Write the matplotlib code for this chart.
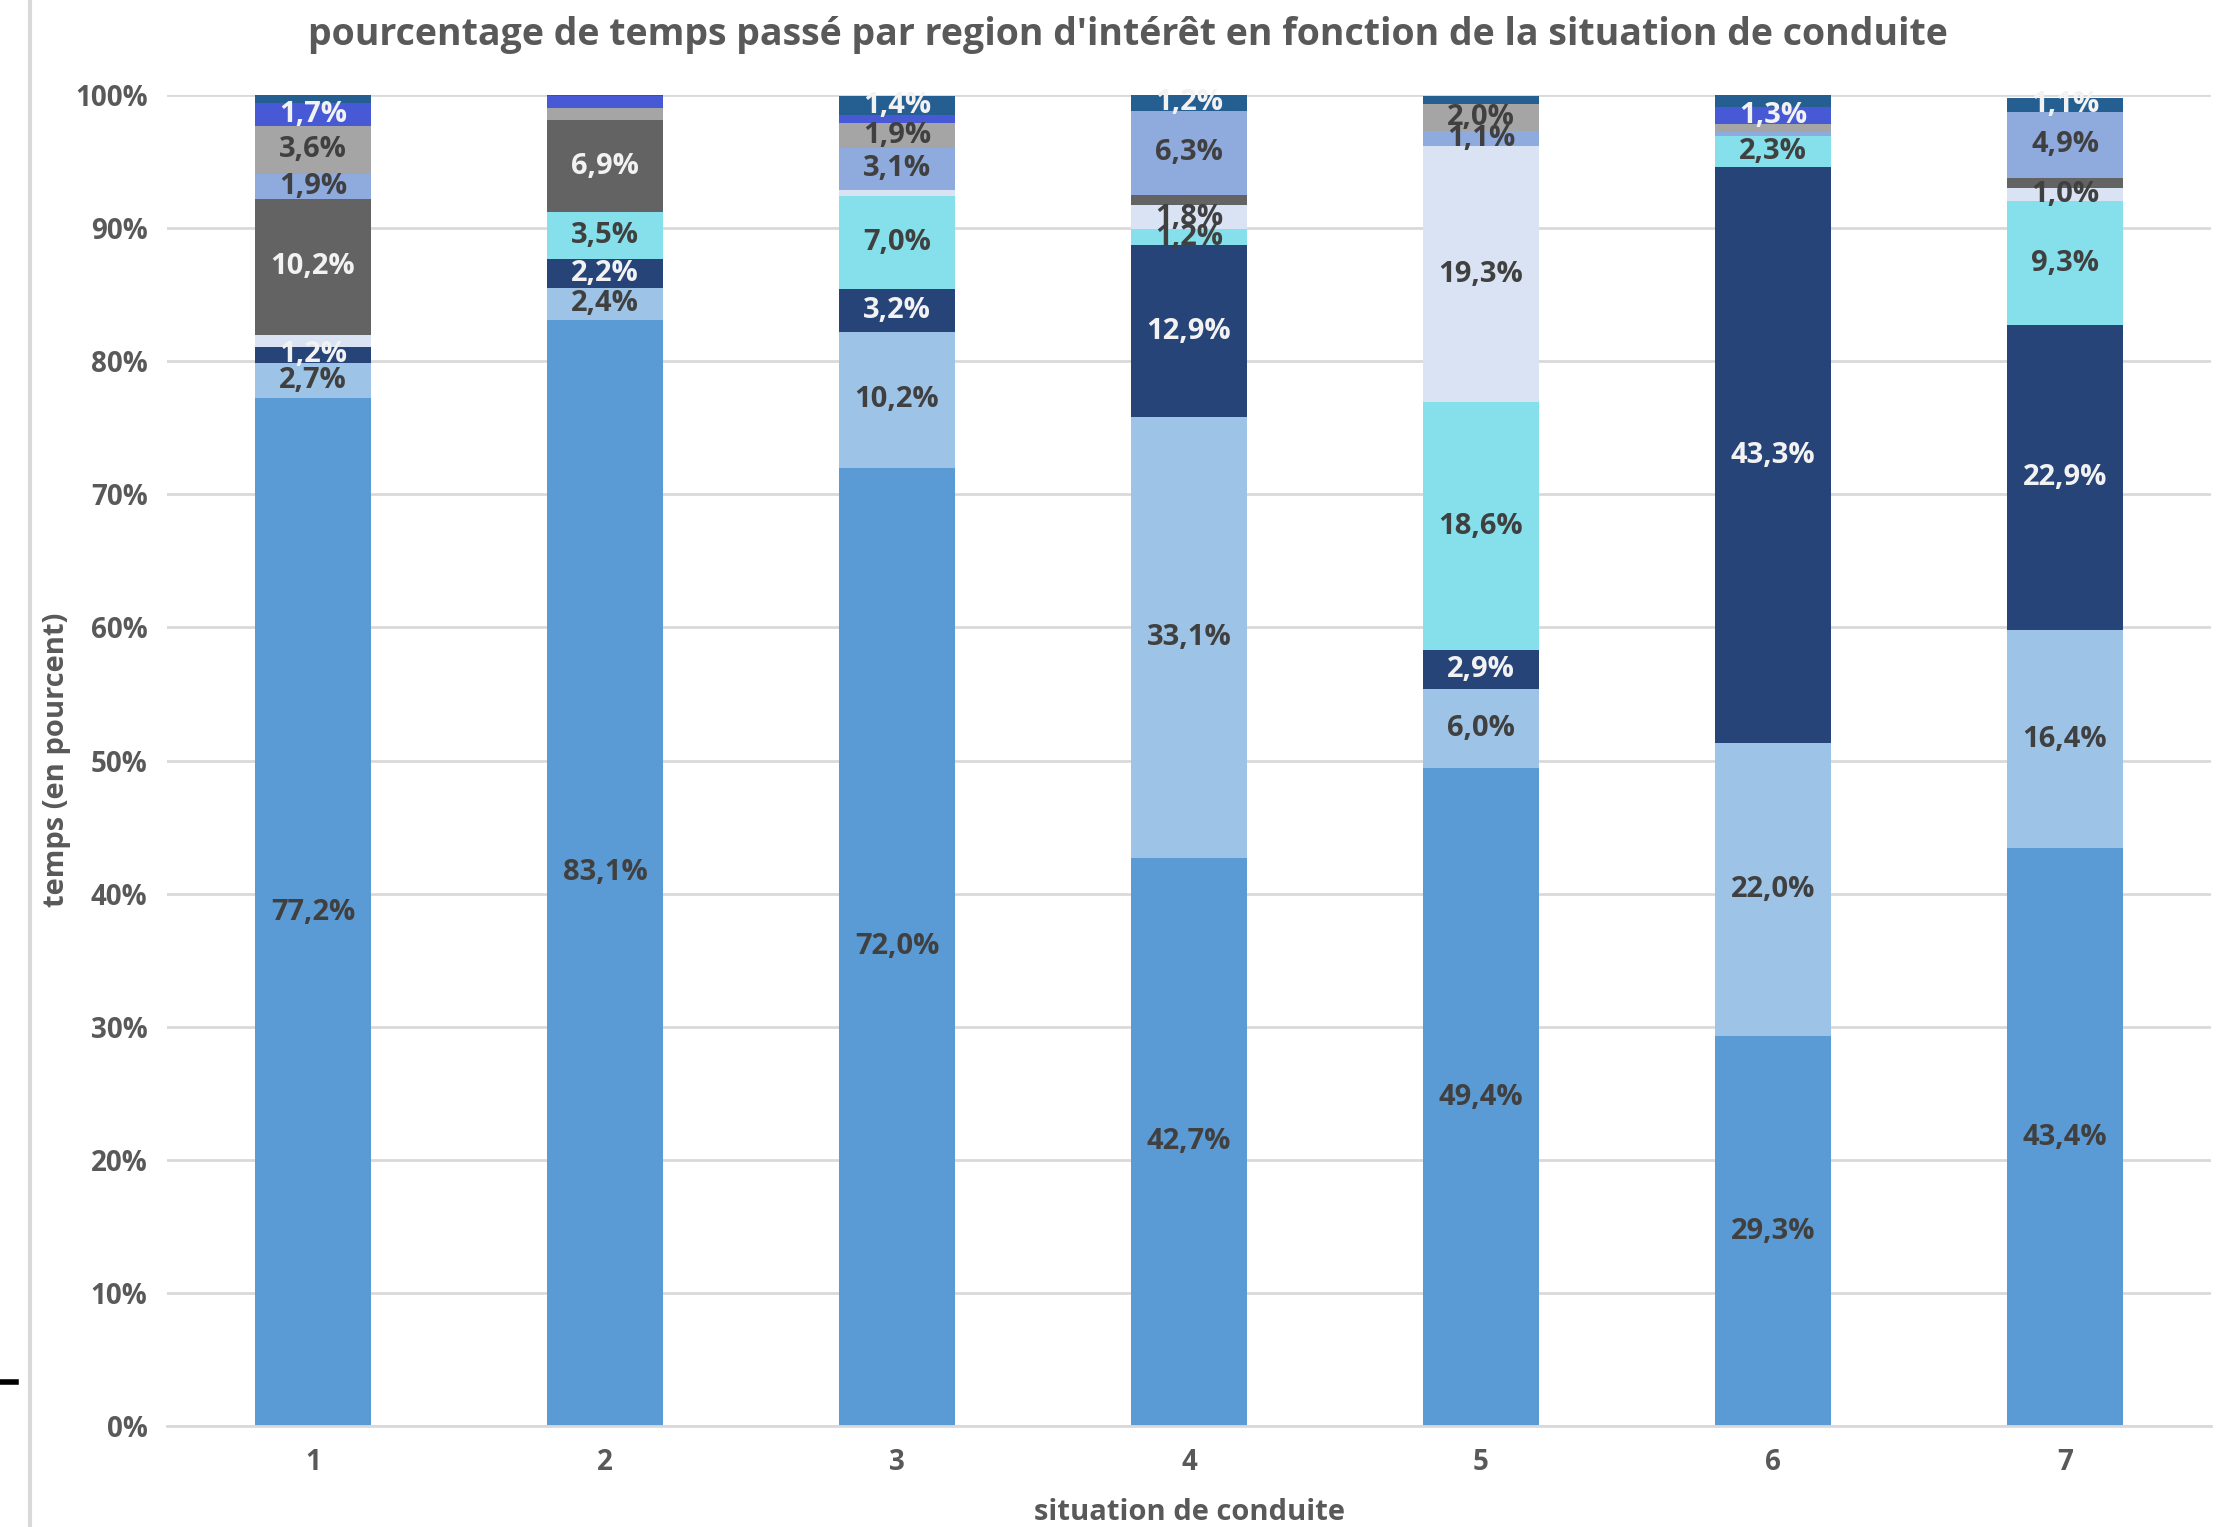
import matplotlib.pyplot as plt
import numpy as np
from matplotlib.lines import Line2D

# situations de conduite
situations = ['1', '2', '3', '4', '5', '6', '7']

# pourcentages par region d'interet (du bas vers le haut de la pile)
s1 = [77.2, 83.1, 72.0, 42.7, 49.4, 29.3, 43.4]
s2 = [2.7, 2.4, 10.2, 33.1, 6.0, 22.0, 16.4]
s3 = [1.2, 2.2, 3.2, 12.9, 2.9, 43.3, 22.9]
s4 = [0.0, 3.5, 7.0, 1.2, 18.6, 2.3, 9.3]
s5 = [0.9, 0.0, 0.5, 1.8, 19.3, 0.0, 1.0]
s6 = [10.2, 6.9, 0.0, 0.8, 0.0, 0.0, 0.8]
s7 = [1.9, 0.0, 3.1, 6.3, 1.1, 0.3, 4.9]
s8 = [3.6, 0.9, 1.9, 0.0, 2.0, 0.6, 0.0]
s9 = [1.7, 0.9, 0.6, 0.0, 0.0, 1.3, 0.0]
s10 = [0.6, 0.1, 1.4, 1.2, 0.6, 0.9, 1.1]

series = [s1, s2, s3, s4, s5, s6, s7, s8, s9, s10]
colors = ['#5B9BD5', '#9DC3E6', '#264478', '#85E0EB', '#DAE3F3',
          '#636363', '#8FAADC', '#A5A5A5', '#4759D4', '#255E91']
txt_colors = ['#404040', '#404040', '#F2F2F2', '#404040', '#404040',
              '#F2F2F2', '#404040', '#404040', '#F2F2F2', '#F2F2F2']

plt.rcParams['font.family'] = ['Open Sans', 'DejaVu Sans']

fig = plt.figure(figsize=(22.22, 15.27), dpi=100)
ax = fig.add_axes([167 / 2222, 1 - 1426 / 1527, (2211 - 167) / 2222, (1426 - 95) / 1527])

x = np.arange(1, len(situations) + 1)
bottom = np.zeros(len(situations))
for vals, c, tc in zip(series, colors, txt_colors):
    vals = np.array(vals)
    ax.bar(x, vals, 0.4, bottom=bottom, color=c, zorder=2)
    for xi, v, b in zip(x, vals, bottom):
        if v >= 1.0:
            ax.text(xi, b + v / 2, ('%.1f%%' % v).replace('.', ','),
                    ha='center', va='center', fontsize=21, fontweight='bold',
                    color=tc, zorder=3)
    bottom += vals

ax.set_xlim(0.5, 7.5)
ax.set_ylim(0, 100)
ax.set_yticks(np.arange(0, 101, 10))
ax.set_yticklabels(['%d%%' % t for t in range(0, 101, 10)])
ax.set_xticks(x)
ax.set_xticklabels(situations)
ax.yaxis.grid(True, color='#D9D9D9', linewidth=2, zorder=0)
ax.set_axisbelow(True)
for sp in ['top', 'right', 'left']:
    ax.spines[sp].set_visible(False)
ax.spines['bottom'].set_color('#D9D9D9')
ax.spines['bottom'].set_linewidth(2)
ax.tick_params(axis='both', length=0, labelsize=20, labelcolor='#595959')
ax.tick_params(axis='x', pad=16)
ax.tick_params(axis='y', pad=14)
for lab in ax.get_xticklabels() + ax.get_yticklabels():
    lab.set_fontweight('bold')

fig.text(57 / 2222, 1 - 760 / 1527, 'temps (en pourcent)', rotation=90, ha='center', va='center',
         fontsize=21, fontweight='bold', color='#595959')
fig.text(1190 / 2222, 1 - 1513 / 1527, 'situation de conduite', ha='center', va='center',
         fontsize=21, fontweight='bold', color='#595959')

fig.text(1128 / 2222, 1 - 35 / 1527, "pourcentage de temps passé par region d'intérêt en fonction de la situation de conduite",
         ha='center', va='center', fontsize=27, fontweight='bold', color='#595959')

# bord gauche du cadre
fig.add_artist(Line2D([30 / 2222, 30 / 2222], [0, 1], color='#D9D9D9', linewidth=3))
fig.add_artist(Line2D([0, 16 / 2222], [1 - 1382 / 1527, 1 - 1382 / 1527], color='black', linewidth=4))

fig.savefig('out.png', dpi=100)
